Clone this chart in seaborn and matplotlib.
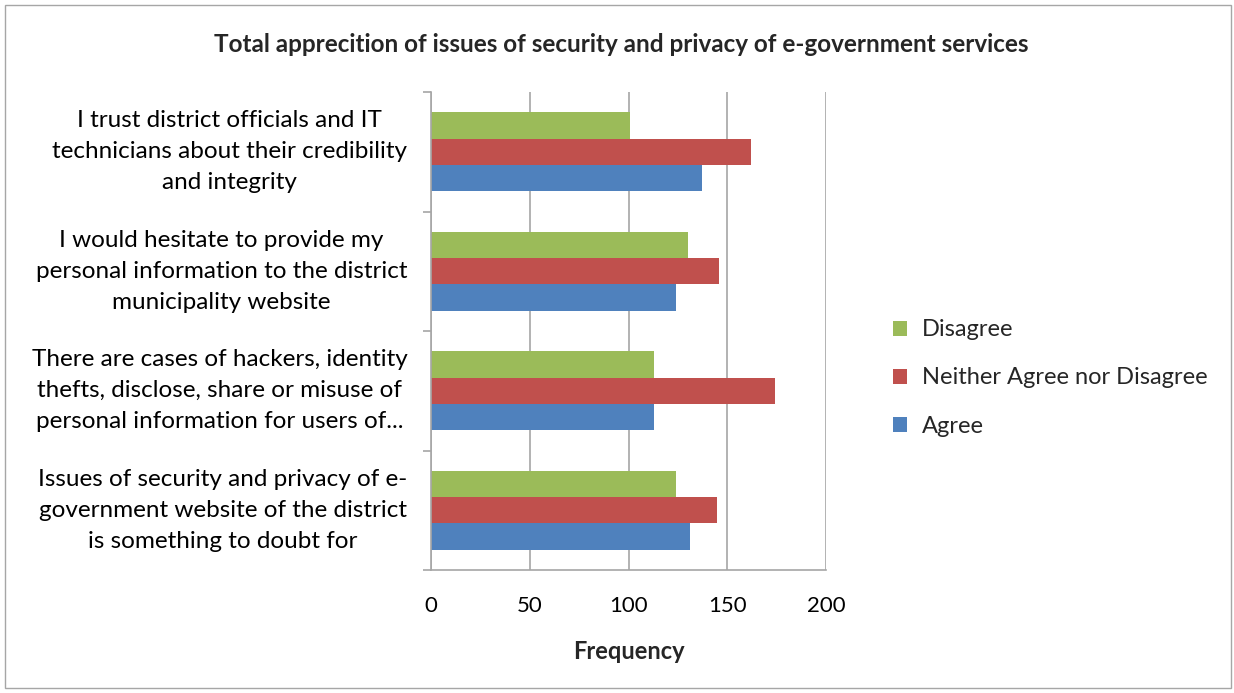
import matplotlib
matplotlib.use("Agg")
import matplotlib.pyplot as plt
from matplotlib.patches import Rectangle
from matplotlib.ticker import FixedLocator
import seaborn as sns
import pandas as pd

statements = [
    "I trust district officials and IT\ntechnicians about their credibility\nand integrity",
    "I would hesitate to provide my\npersonal information to the district\nmunicipality website",
    "There are cases of hackers, identity\nthefts, disclose, share or misuse of\npersonal information for users of...",
    "Issues of security and privacy of e-\ngovernment website of the district\nis something to doubt for",
]
responses = ["Disagree", "Neither Agree nor Disagree", "Agree"]
disagree = [101, 130, 113, 124]
neither = [162, 146, 174, 145]
agree = [137, 124, 113, 131]
x_ticks = [0, 50, 100, 150, 200]

colors = {"Disagree": "#9BBB59", "Neither Agree nor Disagree": "#C0504D", "Agree": "#4F81BD"}

rows = []
for resp, vals in zip(responses, [disagree, neither, agree]):
    for s, v in zip(statements, vals):
        rows.append({"Statement": s, "Response": resp, "Frequency": v})
df = pd.DataFrame(rows)

sns.set_theme(style="white")
plt.rcParams["font.family"] = ["Lato", "DejaVu Sans"]

fig = plt.figure(figsize=(12.34, 6.93), dpi=100)
ax = fig.add_axes([431 / 1234, 1 - 570 / 693, (826 - 431) / 1234, (570 - 92) / 693])

sns.barplot(data=df, y="Statement", x="Frequency", hue="Response", order=statements,
            hue_order=responses, palette=colors, orient="h", width=0.66,
            saturation=1, ax=ax, legend=True, edgecolor="none")

ax.set_xlim(0, 200)
ax.set_xticks(x_ticks)
ax.set_xticklabels([str(t) for t in x_ticks], fontsize=16)
ax.xaxis.grid(True, color="#A6A6A6", linewidth=1.2)
ax.set_axisbelow(True)
for side in ["top", "right"]:
    ax.spines[side].set_visible(False)
for side in ["left", "bottom"]:
    ax.spines[side].set_color("#A6A6A6")
    ax.spines[side].set_linewidth(1.2)

ax.tick_params(axis="x", which="major", direction="out", length=6, color="#A6A6A6",
               width=1.2, pad=13, labelcolor="black")
ax.tick_params(axis="y", which="major", length=0, pad=17, labelsize=17.5, labelcolor="black")
ax.yaxis.set_minor_locator(FixedLocator([-0.5, 0.5, 1.5, 2.5, 3.5]))
ax.tick_params(axis="y", which="minor", direction="out", length=6, color="#A6A6A6", width=1.2, left=True)
for lab in ax.get_yticklabels():
    lab.set_multialignment("center")
    lab.set_linespacing(1.6)
    lab.set_verticalalignment("center")

ax.set_ylabel("")
ax.set_xlabel("Frequency", fontsize=17, fontweight="bold", labelpad=17)

handles, labels = ax.get_legend_handles_labels()
ax.legend_.remove()
fig.legend(handles, labels, loc="center left", bbox_to_anchor=(872 / 1234, 1 - 378 / 693),
           frameon=False, fontsize=17, handlelength=0.6, handleheight=0.6,
           labelspacing=1.15, handletextpad=0.6)

fig.text(621 / 1234, 1 - 44 / 693,
         "Total apprecition of issues of security and privacy of e-government services",
         ha="center", va="center", fontsize=17.5, fontweight="bold")

fig.patches.append(Rectangle((5 / 1234, 5 / 693), 1226 / 1234, 683 / 693,
                             transform=fig.transFigure, fill=False,
                             edgecolor="#A6A6A6", linewidth=1.0))

fig.savefig("out.png", dpi=100, facecolor="white")
